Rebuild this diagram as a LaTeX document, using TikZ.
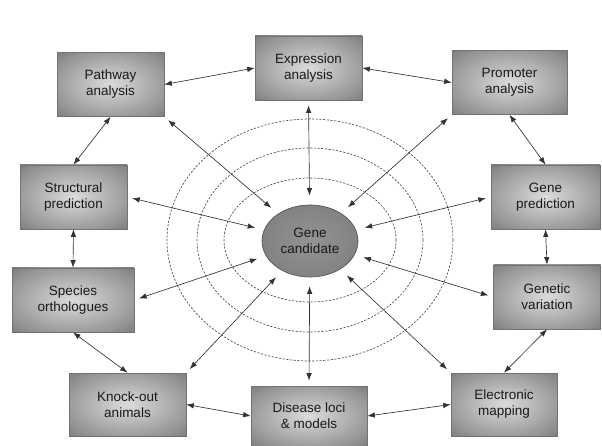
\documentclass[tikz,border=0pt]{standalone}
\usepackage{fontspec}
\setsansfont{Liberation Sans}
\usepackage{tikz}
\usetikzlibrary{arrows.meta,shapes.geometric}
\pgfdeclareradialshading{boxglow}{\pgfpoint{0bp}{0bp}}{color(0bp)=(black!14); color(28bp)=(black!42); color(50bp)=(black!68)}
\pgfdeclareradialshading{geneglow}{\pgfpoint{0bp}{0bp}}{color(0bp)=(black!42); color(50bp)=(black!56)}

\begin{document}
\begin{tikzpicture}[x=1pt, y=-1pt,
    taskbox/.style={rectangle, draw=black!55, line width=0.7pt, shading=boxglow,
        minimum width=107pt, minimum height=64pt, inner sep=0pt, align=center,
        text=black!90, font=\sffamily\fontsize{13.5}{16}\selectfont},
    genenode/.style={ellipse, draw=black!65, line width=0.7pt, shading=geneglow,
        minimum width=96pt, minimum height=72pt, inner sep=0pt, align=center,
        text=black!90, font=\sffamily\fontsize{13.5}{16}\selectfont},
    ring/.style={draw=black!70, line width=0.65pt, dash pattern=on 2.2pt off 1.5pt},
    link/.style={draw=black!80, line width=0.65pt},
    spoke/.style={link, shorten <=9pt, shorten >=5pt},
    >={Latex[length=7.5pt,width=5.5pt]}
]
\path[use as bounding box, fill=white] (0,0) rectangle (602,446);

\draw[ring] (310,240) ellipse [x radius=86pt, y radius=62pt];
\draw[ring] (310,240) ellipse [x radius=113pt, y radius=92pt];
\draw[ring] (310,240) ellipse [x radius=143pt, y radius=121pt];

\node[genenode] (cand) at (310,241) {Gene\\candidate};

\node[taskbox] (pathway) at (110.5,84.5) {Pathway\\analysis};
\node[taskbox] (expr) at (308.5,68) {Expression\\analysis};
\node[taskbox, minimum width=115pt] (promoter) at (509.5,82.5) {Promoter\\analysis};
\node[taskbox] (struct) at (73.5,197) {Structural\\prediction};
\node[taskbox, minimum width=109pt] (genepred) at (545.5,197) {Gene\\prediction};
\node[taskbox, minimum width=122pt] (species) at (73,300) {Species\\orthologues};
\node[taskbox] (genvar) at (547,297) {Genetic\\variation};
\node[taskbox, minimum width=117pt, minimum height=63pt] (knockout) at (127.5,404.5) {Knock-out\\animals};
\node[taskbox, minimum width=116pt, minimum height=60pt] (disease) at (309,416) {Disease loci\\\& models};
\node[taskbox, minimum width=106pt, minimum height=63pt] (emap) at (504,404.5) {Electronic\\mapping};

\draw[link, <->] (pathway.east) -- (expr.west);
\draw[link, <->] (expr.east) -- (promoter.west);
\draw[link, <->] (promoter.south) -- (genepred.north);
\draw[link, <->] (genepred.south) -- (genvar.north);
\draw[link, <->] (genvar.south) -- (emap.north);
\draw[link, <->] (emap.west) -- (disease.east);
\draw[link, <->] (disease.west) -- (knockout.east);
\draw[link, <->] (knockout.north) -- (species.south);
\draw[link, <->] (species.north) -- (struct.south);
\draw[link, <->] (struct.north) -- (pathway.south);

\draw[spoke, <->] (cand) -- (pathway.south east);
\draw[spoke, <->] (cand) -- (expr.south);
\draw[spoke, <->] (cand) -- (promoter.south west);
\draw[spoke, <->] (cand) -- (struct.east);
\draw[spoke, <->] (cand) -- (genepred.west);
\draw[spoke, <->] (cand) -- (species.east);
\draw[spoke, <->] (cand) -- (genvar.west);
\draw[spoke, <->] (cand) -- (knockout.north east);
\draw[spoke, <->] (cand) -- (disease.north);
\draw[spoke, <->] (cand) -- (emap.north west);
\end{tikzpicture}
\end{document}
